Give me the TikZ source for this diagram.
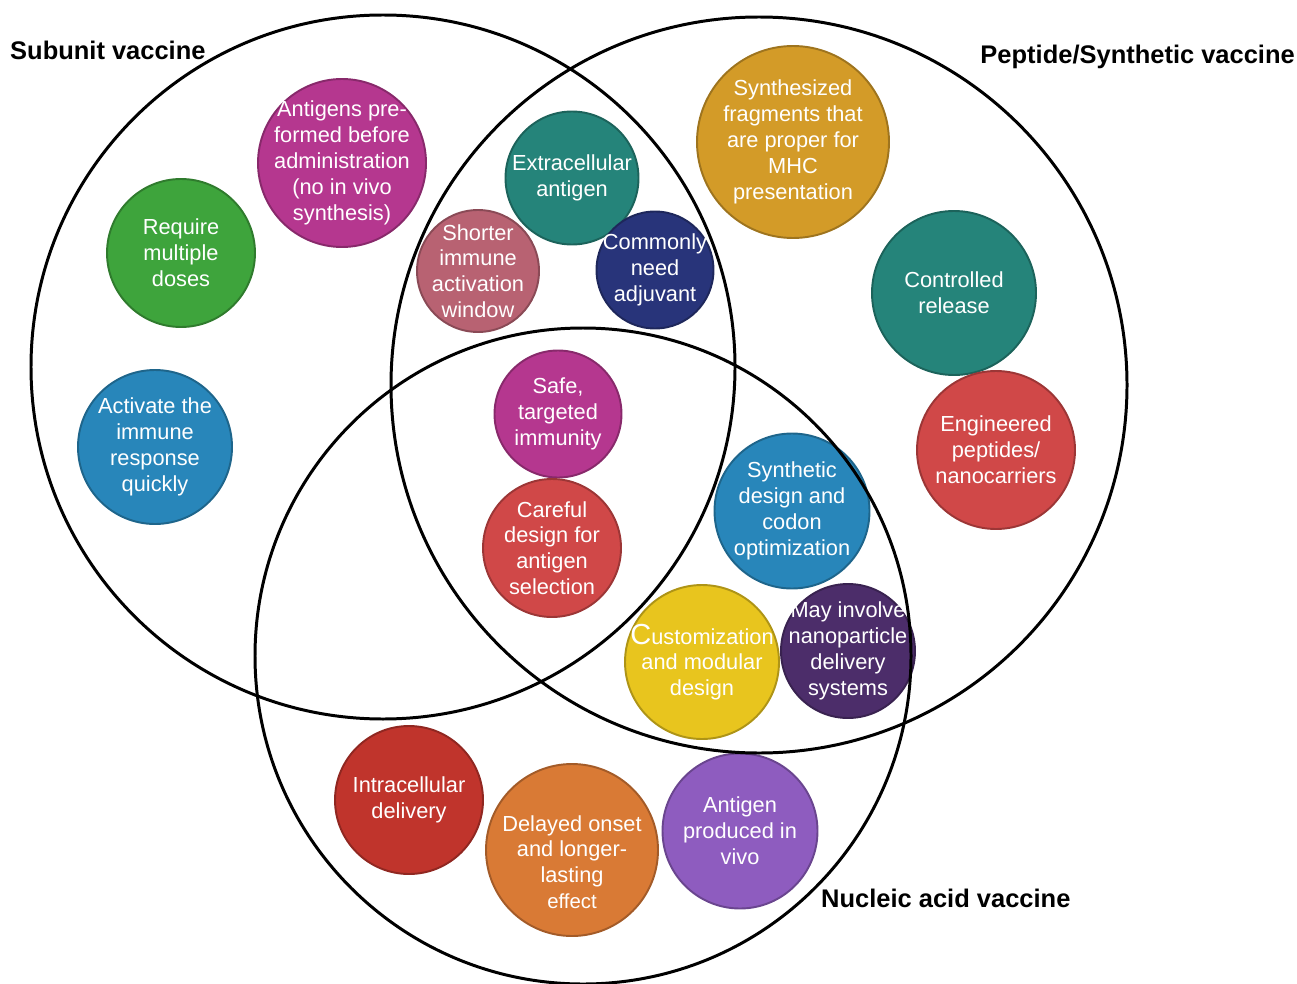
\documentclass[tikz,border=0pt]{standalone}
\usepackage{fontspec}
\setmainfont{Liberation Sans}
\definecolor{magentaA}{RGB}{181,55,143}
\definecolor{greenA}{RGB}{62,164,60}
\definecolor{blueA}{RGB}{40,134,186}
\definecolor{tealA}{RGB}{37,132,122}
\definecolor{roseA}{RGB}{184,98,114}
\definecolor{navyA}{RGB}{40,52,122}
\definecolor{goldA}{RGB}{211,155,40}
\definecolor{redA}{RGB}{208,72,72}
\definecolor{yellowA}{RGB}{232,197,30}
\definecolor{purpleA}{RGB}{76,45,106}
\definecolor{brickA}{RGB}{192,52,44}
\definecolor{orangeA}{RGB}{217,122,53}
\definecolor{violetA}{RGB}{142,92,191}
\tikzset{
  bubble/.style={circle, draw=#1!75!black, fill=#1, line width=1.1pt, inner sep=0pt},
  dia/.style={minimum size=#1*0.02cm},
  bubtext/.style={text=white, align=center, inner sep=0pt, font=\fontsize{12.4}{14.7}\selectfont},
  setname/.style={font=\fontsize{14.5}{17}\selectfont\bfseries},
  setring/.style={line width=1.7pt}
}

\begin{document}
\begin{tikzpicture}[x=0.02cm, y=-0.02cm]
        \useasboundingbox (0,0) rectangle (1297,983);
        % subunit only
        \node[bubble=magentaA, dia=168, label={[bubtext]center:Antigens pre-\\formed before\\administration\\(no in vivo\\synthesis)}] (preformed) at (342,163) {};
        \node[bubble=greenA, dia=148, label={[bubtext]center:Require\\multiple\\doses}] (doses) at (181,253) {};
        \node[bubble=blueA, dia=154, label={[bubtext]center:Activate the\\immune\\response\\quickly}] (quickly) at (155,447) {};
        % subunit and peptide
        \node[bubble=tealA, dia=133, label={[bubtext]center:Extracellular\\antigen}] (extra) at (572,178) {};
        \node[bubble=roseA, dia=122, label={[bubtext]center:Shorter\\immune\\activation\\window}] (shorter) at (478,271) {};
        \node[bubble=navyA, dia=117, label={[bubtext]center:Commonly\\need\\adjuvant}] (adjuvant) at (655,270) {};
        % peptide only
        \node[bubble=goldA, dia=192, label={[bubtext]center:Synthesized\\fragments that\\are proper for\\MHC\\presentation}] (fragments) at (793,142) {};
        \node[bubble=tealA, dia=164, label={[bubtext]center:Controlled\\release}] (release) at (954,293) {};
        \node[bubble=redA, dia=158, label={[bubtext]center:Engineered\\peptides/\\nanocarriers}] (carriers) at (996,450) {};
        % all three
        \node[bubble=magentaA, dia=127, label={[bubtext]center:Safe,\\targeted\\immunity}] (safe) at (558,414) {};
        \node[bubble=redA, dia=138, label={[bubtext]center:Careful\\design for\\antigen\\selection}] (careful) at (552,548) {};
        % peptide and nucleic
        \node[bubble=blueA, dia=155, label={[bubtext]center:Synthetic\\design and\\codon\\optimization}] (codon) at (792,511) {};
        \node[bubble=yellowA, dia=154, label={[bubtext]center:{\fontsize{16.5}{14.7}\selectfont C}ustomization\\and modular\\design}] (modular) at (702,662) {};
        \node[bubble=purpleA, dia=134, label={[bubtext]center:May involve\\nanoparticle\\delivery\\systems}] (nano) at (848,651) {};
        % nucleic only
        \node[bubble=brickA, dia=148, label={[bubtext]center:Intracellular\\delivery}] (intra) at (409,800) {};
        \node[bubble=orangeA, dia=172, label={[bubtext, yshift=-0.24cm]center:Delayed onset\\and longer-\\lasting\\{\fontsize{11.6}{14.7}\selectfont effect}}] (delayed) at (572,850) {};
        \node[bubble=violetA, dia=155, label={[bubtext]center:Antigen\\produced in\\vivo}] (invivo) at (740,831) {};
        % the three sets
        \draw[setring] (383,367) circle (352);
        \draw[setring] (759,385) circle (368);
        \draw[setring] (583,656) circle (328);
        \node[setname, anchor=west] (subunit) at (4,50) {Subunit vaccine};
        \node[setname, anchor=east] (peptide) at (1301,57) {Peptide/Synthetic vaccine};
        \node[setname, anchor=west] (nucleic) at (815,898) {Nucleic acid vaccine};
    \end{tikzpicture}
\end{document}
